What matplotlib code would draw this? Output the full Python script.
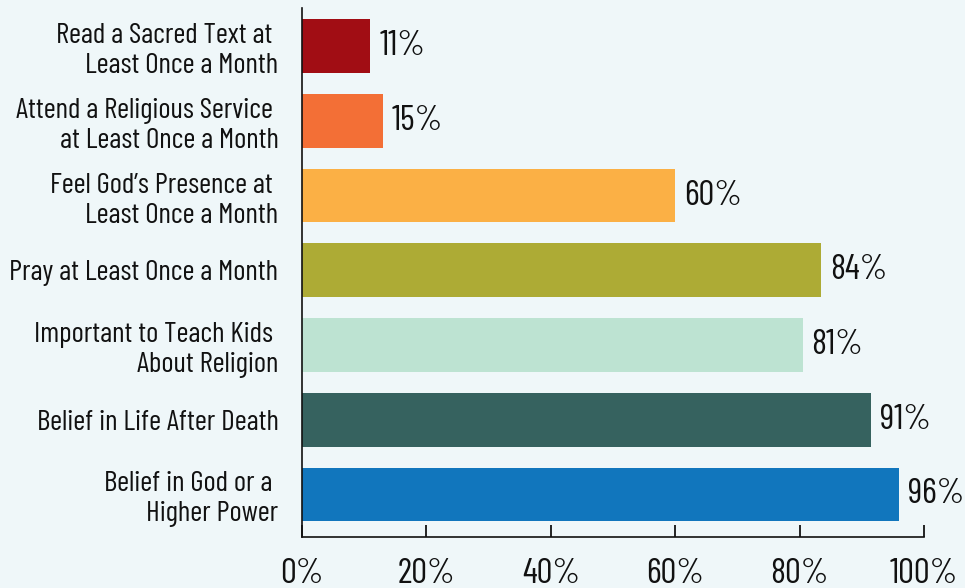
import matplotlib.pyplot as plt
from matplotlib import font_manager

categories = [
    "Read a Sacred Text at \nLeast Once a Month",
    "Attend a Religious Service \nat Least Once a Month",
    "Feel God\u2019s Presence at \nLeast Once a Month",
    "Pray at Least Once a Month",
    "Important to Teach Kids \nAbout Religion",
    "Belief in Life After Death",
    "Belief in God or a \nHigher Power",
]
bar_values = [11, 13, 60, 83.5, 80.5, 91.5, 96]
labels = ["11%", "15%", "60%", "84%", "81%", "91%", "96%"]
colors = ["#a10d14", "#f36f36", "#fbb045", "#adab35", "#bde3d2", "#36625f", "#1176bd"]
xticks = [0, 20, 40, 60, 80, 100]

# condensed face if there is one
names = {f.name for f in font_manager.fontManager.ttflist}
fam = "DejaVu Sans"
for cand in ["Barlow Condensed", "Barlow Semi Condensed", "Roboto Condensed", "Liberation Sans Narrow"]:
    if cand in names:
        fam = cand
        break
plt.rcParams["font.family"] = [fam, "DejaVu Sans"]

bg = "#eff7f9"
fig = plt.figure(figsize=(9.65, 5.88), dpi=100, facecolor=bg)
ax = fig.add_axes([0.313, 0.0867, 0.6445, 0.8997])
ax.set_facecolor(bg)

pos = list(range(len(categories)))
ax.barh(pos, bar_values, height=0.72, color=colors)
for p, v, t in zip(pos, bar_values, labels):
    ax.text(v + 1.4, p, t, va="center", ha="left", fontsize=25.5, color="#111111")

ax.set_xlim(0, 100)
ax.set_ylim(6.57, -0.51)
ax.set_yticks(pos)
ax.set_yticklabels(categories, fontsize=21, color="#111111", linespacing=1.2)
ax.tick_params(axis="y", length=0, pad=17)
ax.set_xticks(xticks)
ax.set_xticklabels([f"{x}%" for x in xticks], fontsize=25.5, color="#111111")
ax.tick_params(axis="x", direction="in", length=9, width=1.2, pad=15)
for s in ["top", "right"]:
    ax.spines[s].set_visible(False)
for s in ["left", "bottom"]:
    ax.spines[s].set_linewidth(1.2)
    ax.spines[s].set_color("#111111")

fig.savefig("out.png", dpi=100, facecolor=bg)
